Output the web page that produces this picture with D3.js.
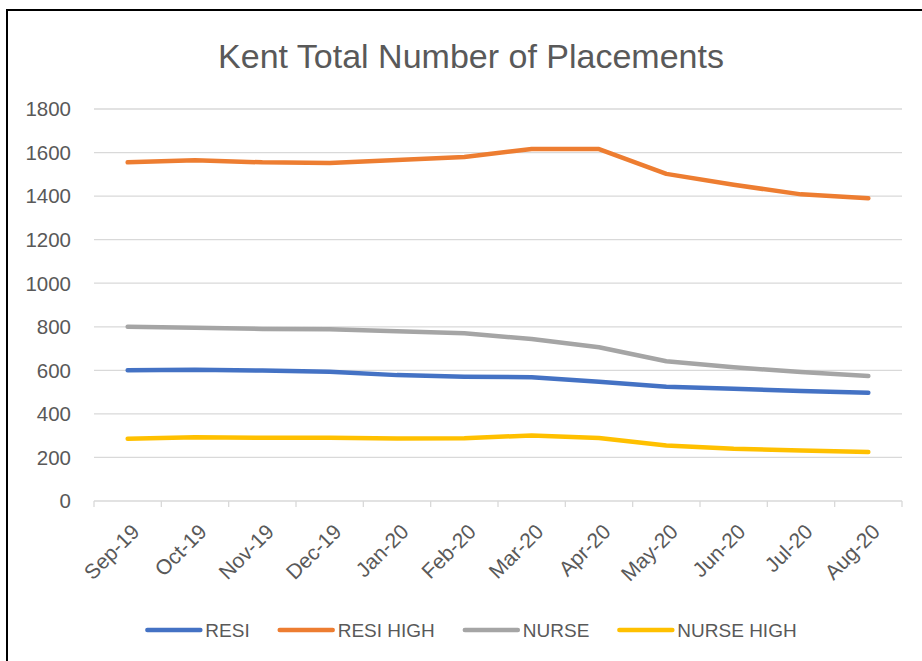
<!DOCTYPE html>
<html>
<head>
<meta charset="utf-8">
<script src="https://cdn.jsdelivr.net/npm/d3@7"></script>
<style>
  body { margin: 0; background: #fff; }
  svg { display: block; font-family: "Liberation Sans", Arial, sans-serif; }
</style>
</head>
<body>
<svg id="chart" width="922" height="661"></svg>
<script>
const months = ["Sep-19", "Oct-19", "Nov-19", "Dec-19", "Jan-20", "Feb-20",
  "Mar-20", "Apr-20", "May-20", "Jun-20", "Jul-20", "Aug-20"];
const resi      = [600, 603, 599, 594, 578, 571, 568, 548, 525, 515, 505, 497];
const resiHigh  = [1555, 1565, 1555, 1552, 1566, 1580, 1616, 1616, 1502, 1452, 1408, 1390];
const nurse     = [800, 795, 790, 789, 780, 770, 744, 706, 642, 614, 592, 574];
const nurseHigh = [286, 293, 290, 290, 287, 288, 301, 289, 255, 240, 232, 225];
const yTicks = [0, 200, 400, 600, 800, 1000, 1200, 1400, 1600, 1800];

const series = [
  { name: "RESI", values: resi, color: "#4472C4" },
  { name: "RESI HIGH", values: resiHigh, color: "#ED7D31" },
  { name: "NURSE", values: nurse, color: "#A5A5A5" },
  { name: "NURSE HIGH", values: nurseHigh, color: "#FFC000" }
];

const svg = d3.select("#chart");
const plotLeft = 94, plotRight = 902, plotTop = 109, plotBottom = 501;
const textColor = "#595959";

const x = d3.scalePoint().domain(months).range([plotLeft, plotRight]).padding(0.5);
const xb = d3.scaleBand().domain(months).range([plotLeft, plotRight]);
const y = d3.scaleLinear().domain([0, 1800]).range([plotBottom, plotTop]);

// frame
svg.append("rect")
  .attr("x", 7).attr("y", 10)
  .attr("width", 940).attr("height", 700)
  .attr("fill", "none").attr("stroke", "#000").attr("stroke-width", 2);

// title, fitted to the reference width
const title = svg.append("text")
  .attr("x", 471).attr("y", 68)
  .attr("text-anchor", "middle")
  .attr("fill", textColor)
  .attr("font-size", 32)
  .text("Kent Total Number of Placements");
const tw = title.node().getComputedTextLength();
title.attr("font-size", 32 * 506 / tw);

// gridlines
svg.append("g").selectAll("line")
  .data(yTicks.filter(d => d > 0))
  .enter().append("line")
  .attr("x1", plotLeft).attr("x2", plotRight)
  .attr("y1", d => y(d)).attr("y2", d => y(d))
  .attr("stroke", "#D9D9D9").attr("stroke-width", 1.3);

// y labels
svg.append("g").selectAll("text")
  .data(yTicks)
  .enter().append("text")
  .attr("x", 71).attr("y", d => y(d))
  .attr("dy", "0.36em")
  .attr("text-anchor", "end")
  .attr("font-size", 20.5)
  .attr("fill", textColor)
  .text(d => d);

// x axis
const xAxis = svg.append("g");
xAxis.append("line")
  .attr("x1", plotLeft).attr("x2", plotRight)
  .attr("y1", plotBottom).attr("y2", plotBottom)
  .attr("stroke", "#D9D9D9").attr("stroke-width", 1.3);
xAxis.selectAll(".tick")
  .data(months.map(m => xb(m)).concat([plotRight]))
  .enter().append("line")
  .attr("x1", d => d).attr("x2", d => d)
  .attr("y1", plotBottom).attr("y2", plotBottom + 6)
  .attr("stroke", "#D9D9D9").attr("stroke-width", 1.3);
xAxis.selectAll("text")
  .data(months)
  .enter().append("text")
  .attr("transform", d => `translate(${x(d) + 13},${plotBottom + 32}) rotate(-45)`)
  .attr("text-anchor", "end")
  .attr("font-size", 21)
  .attr("fill", textColor)
  .text(d => d);

// lines
const line = d3.line()
  .x((d, i) => x(months[i]))
  .y(d => y(d));

svg.append("g").selectAll("path")
  .data(series)
  .enter().append("path")
  .attr("d", d => line(d.values))
  .attr("fill", "none")
  .attr("stroke", d => d.color)
  .attr("stroke-width", 4.5)
  .attr("stroke-linecap", "round")
  .attr("stroke-linejoin", "round");

// legend
const legend = svg.append("g");
const ly = 630;
let lx = 0;
series.forEach(s => {
  const g = legend.append("g").attr("transform", `translate(${lx},0)`);
  g.append("line")
    .attr("x1", 0).attr("x2", 53)
    .attr("y1", ly).attr("y2", ly)
    .attr("stroke", s.color).attr("stroke-width", 4.5)
    .attr("stroke-linecap", "round");
  const t = g.append("text")
    .attr("x", 58).attr("y", ly)
    .attr("dy", "0.36em")
    .attr("font-size", 19)
    .attr("fill", textColor)
    .text(s.name);
  lx += 58 + t.node().getComputedTextLength() + 30;
});
const legendWidth = lx - 30;
legend.attr("transform", `translate(${472 - legendWidth / 2},0)`);
</script>
</body>
</html>
